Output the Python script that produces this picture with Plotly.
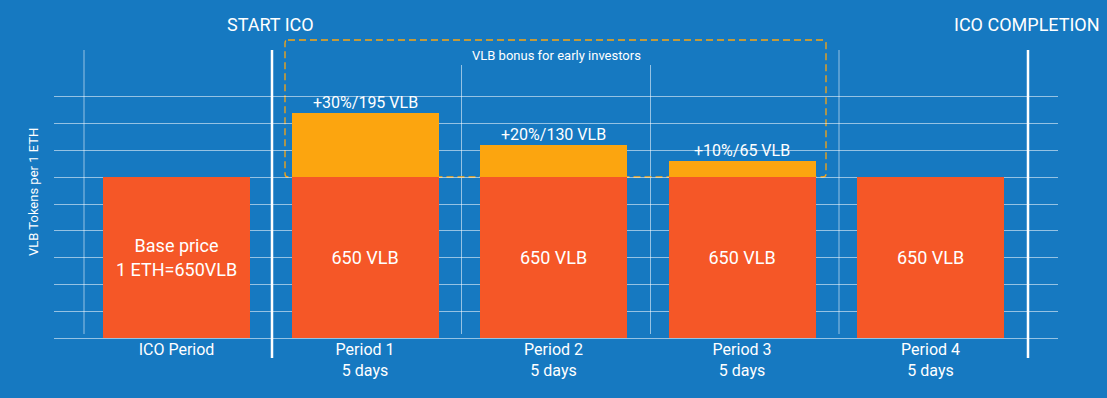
import plotly.graph_objects as go

# ---- data ----
categories = ["ICO Period", "Period 1<br>5 days", "Period 2<br>5 days", "Period 3<br>5 days", "Period 4<br>5 days"]
base_values = [650, 650, 650, 650, 650]
bonus_values = [0, 258, 130, 65, 0]          # bonus bar heights as drawn
base_labels = ["Base price<br>1 ETH=650VLB", "650 VLB", "650 VLB", "650 VLB", "650 VLB"]
bonus_labels = ["", "+30%/195 VLB", "+20%/130 VLB", "+10%/65 VLB", ""]

BG = "#1679C1"
RED = "#F55727"
ORANGE = "#FCA50F"
GRID = "rgba(255,255,255,0.55)"
FONT = "Roboto"

W, H = 1107, 398
L, R, T, B = 54, 1058, 70, 338
PW, PH = R - L, B - T


def px(xp):
    return (xp - L) / PW


def py(yp):
    return (B - yp) / PH


fig = go.Figure()
fig.add_trace(go.Bar(
    x=categories, y=base_values, marker_color=RED, marker_line_width=0,
    width=0.78, text=base_labels, textposition="inside", insidetextanchor="middle",
    textfont=dict(color="white", size=18, family=FONT), textangle=0,
    hoverinfo="skip",
))
fig.add_trace(go.Bar(
    x=categories, y=bonus_values, marker_color=ORANGE, marker_line_width=0,
    width=0.78, hoverinfo="skip",
))

annotations = []
for c, b, v, lab in zip(categories, base_values, bonus_values, bonus_labels):
    if lab:
        annotations.append(dict(
            x=c, y=b + v, xref="x", yref="y", text=lab, showarrow=False,
            yanchor="bottom", xanchor="center", yshift=-1,
            font=dict(color="white", size=16, family=FONT),
        ))

annotations += [
    dict(x=px(270), y=py(24), xref="paper", yref="paper", text="START ICO", showarrow=False,
         xanchor="center", yanchor="middle", font=dict(color="white", size=18, family=FONT)),
    dict(x=px(1027), y=py(24), xref="paper", yref="paper", text="ICO COMPLETION", showarrow=False,
         xanchor="center", yanchor="middle", font=dict(color="white", size=18, family=FONT)),
    dict(x=px(556), y=py(56), xref="paper", yref="paper", text="VLB bonus for early investors",
         showarrow=False, xanchor="center", yanchor="middle",
         font=dict(color="white", size=13, family=FONT)),
    dict(x=px(33), y=py(192), xref="paper", yref="paper", text="VLB Tokens per 1 ETH",
         showarrow=False, textangle=-90, xanchor="center", yanchor="middle",
         font=dict(color="white", size=13, family=FONT)),
]

shapes = []
# thin vertical separators
for xp, y0p in [(84, 50), (461.5, 65), (650.5, 65), (839, 50)]:
    shapes.append(dict(type="line", xref="paper", yref="paper", x0=px(xp), x1=px(xp),
                       y0=py(334), y1=py(y0p), line=dict(color=GRID, width=1), layer="between"))
# thick white milestone lines
for xp in [272, 1028]:
    shapes.append(dict(type="line", xref="paper", yref="paper", x0=px(xp), x1=px(xp),
                       y0=py(358), y1=py(50), line=dict(color="white", width=2.5), layer="above"))
# dashed bonus box with slightly rounded corners
X0, X1, YT, YB = px(285), px(826), py(40), py(177)
rx, ry = 3 / PW, 3 / PH
box_path = (
    f"M {X0 + rx},{YT} L {X1 - rx},{YT} Q {X1},{YT} {X1},{YT - ry} "
    f"L {X1},{YB + ry} Q {X1},{YB} {X1 - rx},{YB} "
    f"L {X0 + rx},{YB} Q {X0},{YB} {X0},{YB + ry} "
    f"L {X0},{YT - ry} Q {X0},{YT} {X0 + rx},{YT} Z"
)
shapes.append(dict(type="path", xref="paper", yref="paper", path=box_path,
                   line=dict(color=ORANGE, width=1.3, dash="7px,4px"), layer="between"))

fig.update_layout(
    width=W, height=H,
    margin=dict(l=L, r=W - R, t=T, b=H - B),
    paper_bgcolor=BG, plot_bgcolor=BG,
    barmode="stack", showlegend=False,
    font=dict(family=FONT, color="white"),
    annotations=annotations, shapes=shapes,
    xaxis=dict(range=[-0.65, 4.676], showgrid=False, zeroline=False, showline=False,
               ticks="", tickfont=dict(size=16, color="white", family=FONT), fixedrange=True),
    yaxis=dict(range=[0, 650 / 6 * 10], dtick=650 / 6, tick0=0, showgrid=True, gridcolor=GRID,
               gridwidth=1, zeroline=True, zerolinecolor=GRID, zerolinewidth=1,
               showticklabels=False, ticks="", fixedrange=True),
)

fig.write_html(
    "out.html",
    config={"displayModeBar": False},
    post_script="document.body.style.margin='0';document.body.style.overflow='hidden';",
)
